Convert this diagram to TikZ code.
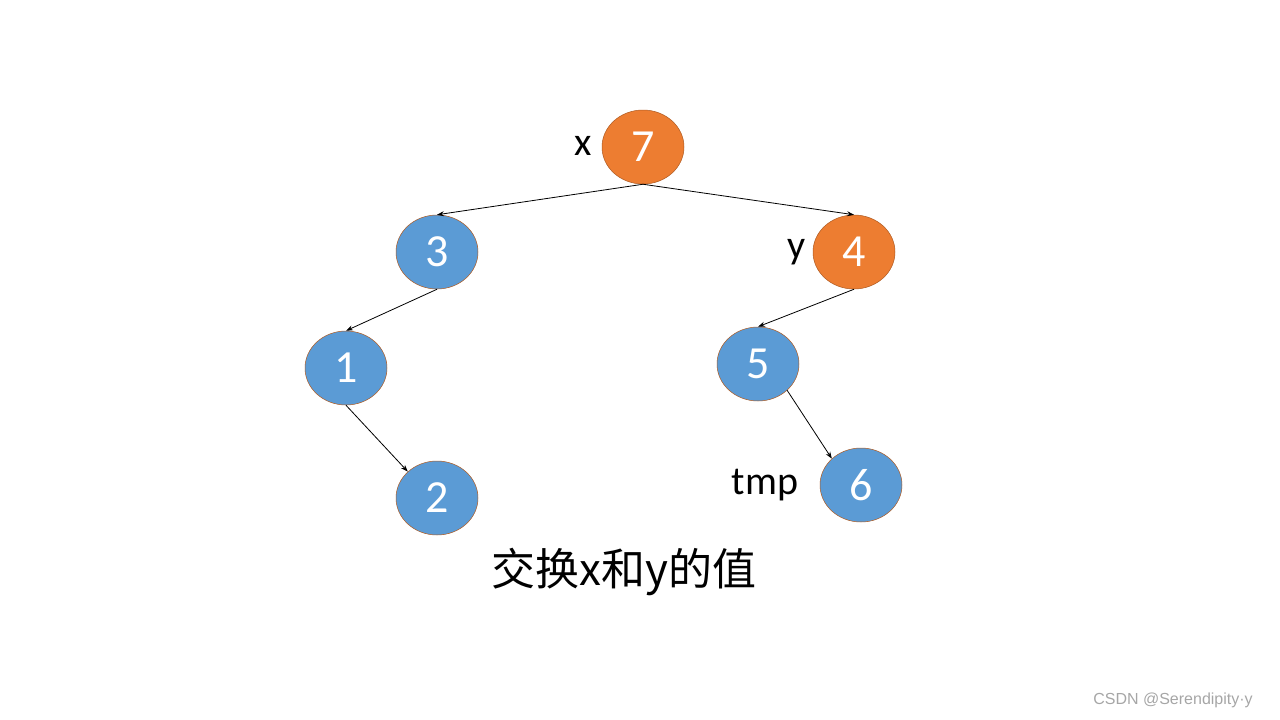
\documentclass[tikz,border=0pt]{standalone}
\usepackage{fontspec}
\usetikzlibrary{shapes.geometric,arrows.meta}
\setmainfont{Carlito}
\newfontfamily\cjk{Noto Sans CJK SC}
\newfontfamily\wm{Liberation Sans}
\definecolor{orn}{HTML}{ED7D31}
\definecolor{blu}{HTML}{5B9BD5}
\definecolor{edg}{HTML}{AE5A21}
\begin{document}
\begin{tikzpicture}[x=1pt,y=-1pt,
  tn/.style={ellipse,draw=edg,line width=0.5pt,minimum width=82pt,minimum height=74pt,inner sep=0pt,text=white,font=\fontsize{46}{46}\selectfont},
  on/.style={tn,fill=orn},
  bn/.style={tn,fill=blu},
  lab/.style={font=\fontsize{40}{40}\selectfont},
  ar/.style={-{Stealth[length=7pt,width=5pt]},line width=0.8pt}]
\useasboundingbox (0,0) rectangle (1280,720);
\node[on] (n7) at (643,147) {7};
\node[bn] (n3) at (437,252) {3};
\node[on] (n4) at (854,252) {4};
\node[bn] (n1) at (346,368) {1};
\node[bn] (n5) at (758,364) {5};
\node[bn] (n2) at (437,498) {2};
\node[bn] (n6) at (861,485) {6};
\node[lab] (lx) at (583,146) {x};
\node[lab] (ly) at (797,252) {y};
\node[lab] (lt) at (765,485) {tmp};
\node[font=\cjk\fontsize{44}{44}\selectfont] (cap) at (624,572) {交换x和y的值};
\node[font=\wm\fontsize{16}{16}\selectfont,text=gray!70] (wm) at (1173,700) {CSDN @Serendipity·y};
\draw[ar] (n7.south) -- (n3.north);
\draw[ar] (n7.south) -- (n4.north);
\draw[ar] (n3.south) -- (n1.north);
\draw[ar] (n1.south) -- (n2.north west);
\draw[ar] (n4.south) -- (n5.north);
\draw[ar] (n5.south east) -- (n6.north west);
\end{tikzpicture}
\end{document}
